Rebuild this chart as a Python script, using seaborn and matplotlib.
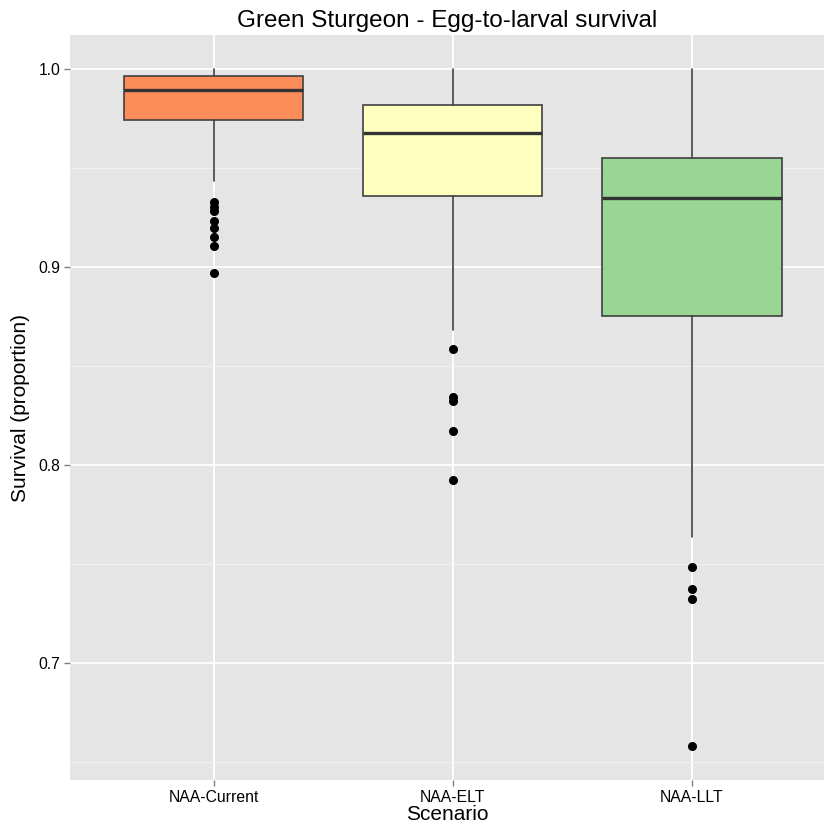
import numpy as np
import pandas as pd
import seaborn as sns
import matplotlib
matplotlib.use("Agg")
import matplotlib.pyplot as plt
from matplotlib.ticker import MultipleLocator

# values
scenarios = ["NAA-Current", "NAA-ELT", "NAA-LLT"]
colors = ["#FC8D59", "#FFFFBF", "#99D594"]
q1 = [0.9742, 0.9360, 0.8753]
med = [0.9894, 0.9675, 0.9348]
q3 = [0.9965, 0.9818, 0.9549]
whis_lo = [0.9434, 0.8682, 0.7636]
whis_hi = [1.0, 1.0, 1.0]
outliers = [
    [0.9327, 0.9305, 0.9284, 0.9234, 0.9198, 0.9153, 0.9106, 0.8971],
    [0.8584, 0.8345, 0.8325, 0.8172, 0.7924],
    [0.7485, 0.7374, 0.7323, 0.6579],
]

sns.set_theme(style="darkgrid", rc={
    "axes.facecolor": "#E5E5E5",
    "grid.color": "white",
    "axes.edgecolor": "#E5E5E5",
    "text.color": "black",
    "axes.labelcolor": "black",
})
plt.rcParams["font.family"] = ["Liberation Sans", "DejaVu Sans"]

fig = plt.figure(figsize=(8.24, 8.30), dpi=100)
ax = fig.add_axes([70 / 824, 1 - 780 / 830, 754 / 824, (780 - 35) / 830])

stats = []
for i, s in enumerate(scenarios):
    stats.append(dict(label=s, q1=q1[i], med=med[i], q3=q3[i],
                      whislo=whis_lo[i], whishi=whis_hi[i],
                      fliers=np.array(outliers[i])))

bp = ax.bxp(stats, positions=[1, 2, 3], widths=0.75, patch_artist=True,
            showcaps=False,
            boxprops=dict(edgecolor="#404040", linewidth=1.2),
            medianprops=dict(color="#333333", linewidth=2.4),
            whiskerprops=dict(color="#404040", linewidth=1.2),
            flierprops=dict(marker="o", markerfacecolor="black",
                            markeredgecolor="black", markersize=5.5))
for patch, c in zip(bp["boxes"], colors):
    patch.set_facecolor(c)
    patch.set_zorder(3)
for k in ["medians", "whiskers", "fliers"]:
    for a in bp[k]:
        a.set_zorder(4)

ax.set_xlim(0.4, 0.4 + 754 / 239.2)
ax.set_ylim(0.6409, 1.0172)
ax.yaxis.set_minor_locator(MultipleLocator(0.05))
ax.set_yticks([0.7, 0.8, 0.9, 1.0])
ax.set_yticklabels(["0.7", "0.8", "0.9", "1.0"])
ax.grid(which="major", color="white", linewidth=1.3)
ax.grid(which="minor", axis="y", color="#F2F2F2", linewidth=0.7)
ax.set_axisbelow(True)
ax.tick_params(axis="both", which="major", length=4, width=1, color="#7F7F7F",
               labelsize=11.3, labelcolor="black", pad=3)
ax.tick_params(axis="y", which="minor", length=0)
ax.tick_params(bottom=True, left=True)
for sp in ax.spines.values():
    sp.set_visible(False)

ax.set_xlabel("Scenario", fontsize=15, labelpad=0, color="black")
ax.set_ylabel("Survival (proportion)", fontsize=15, labelpad=6, color="black")
ax.set_title("Green Sturgeon - Egg-to-larval survival", fontsize=17.5, pad=6,
             color="black")

fig.savefig("out.png", dpi=100)
